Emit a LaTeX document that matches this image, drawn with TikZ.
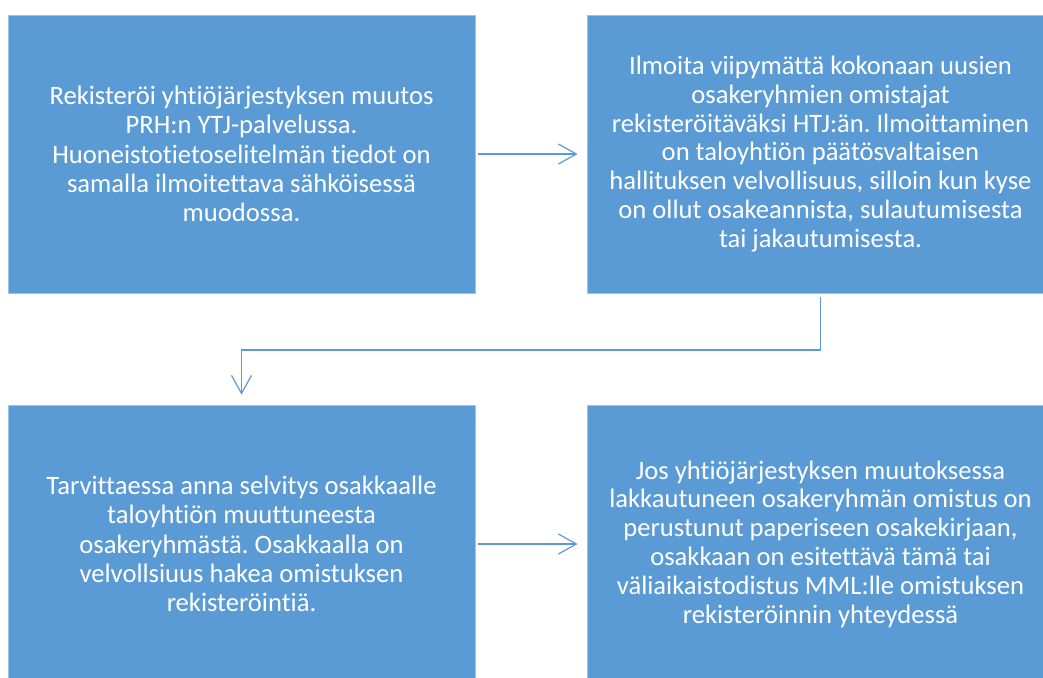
\documentclass[tikz,border=0pt]{standalone}
\usepackage{fontspec}
\setmainfont{Carlito}[Ligatures=NoCommon]
\frenchspacing
\usetikzlibrary{arrows.meta,positioning,calc}
\definecolor{stepblue}{RGB}{91,155,213}
\definecolor{edgeblue}{RGB}{157,195,230}

\begin{document}
\begin{tikzpicture}[
    x=1pt, y=-1pt,
    stepbox/.style={rectangle, draw=edgeblue, line width=0.8pt, fill=stepblue,
                    text=white, minimum width=467pt, minimum height=278pt,
                    inner sep=0pt, align=center,
                    font=\fontsize{26.6}{29.3}\selectfont},
    tightbox/.style={stepbox, font=\fontsize{26.6}{28.8}\selectfont},
    link/.style={draw=stepblue, line width=1.2pt,
                 -{Straight Barb[length=18pt, width=20pt, line width=1.2pt]}}
]
    \clip (0,0) rectangle (1043,677);

    % Upper row
    \node[stepbox] (reg) at (241.5, 154) {Rekisteröi yhtiöjärjestyksen muutos\\
        PRH:n YTJ-palvelussa.\\
        Huoneistotietoselitelmän tiedot on\\
        samalla ilmoitettava sähköisessä\\
        muodossa.};
    \node[tightbox] (notify) at (820.5, 154) {Ilmoita viipymättä kokonaan uusien\\
        osakeryhmien omistajat\\
        rekisteröitäväksi HTJ:än. Ilmoittaminen\\
        on taloyhtiön päätösvaltaisen\\
        hallituksen velvollisuus, silloin kun kyse\\
        on ollut osakeannista, sulautumisesta\\
        tai jakautumisesta.};

    % Lower row
    \node[stepbox] (explain) at (241.5, 544) {Tarvittaessa anna selvitys osakkaalle\\
        taloyhtiön muuttuneesta\\
        osakeryhmästä. Osakkaalla on\\
        velvollsiuus hakea omistuksen\\
        rekisteröintiä.};
    \node[tightbox] (cert) at (820.5, 544) {Jos yhtiöjärjestyksen muutoksessa\\
        lakkautuneen osakeryhmän omistus on\\
        perustunut paperiseen osakekirjaan,\\
        osakkaan on esitettävä tämä tai\\
        väliaikaistodistus MML:lle omistuksen\\
        rekisteröinnin yhteydessä};

    % Arrows
    \coordinate (turn) at (820.5, 350);
    \draw[link, shorten <=3pt, shorten >=9pt] (reg.east) -- (notify.west);
    \draw[link, shorten <=4pt, shorten >=10pt] (notify.south) -- (turn) -| (explain.north);
    \draw[link, shorten <=3pt, shorten >=9pt] (explain.east) -- (cert.west);
\end{tikzpicture}
\end{document}
